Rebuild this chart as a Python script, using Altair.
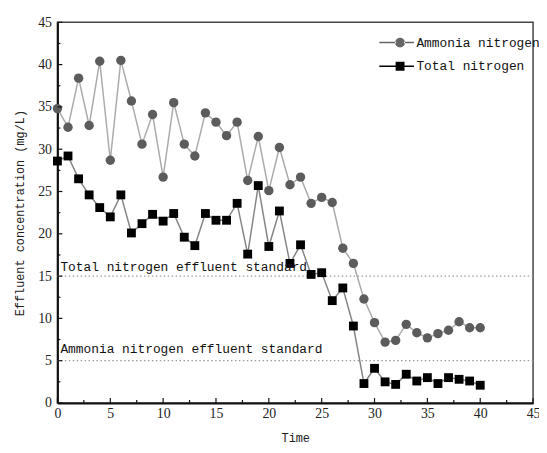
import altair as alt
import pandas as pd

names = ["Ammonia nitrogen", "Total nitrogen"]
time = list(range(41))
ammonia = [34.8, 32.6, 38.4, 32.8, 40.4, 28.7, 40.5, 35.7, 30.6, 34.1, 26.7, 35.5, 30.6, 29.2,
           34.3, 33.2, 31.6, 33.2, 26.3, 31.5, 25.1, 30.2, 25.8, 26.7, 23.6, 24.3, 23.7, 18.3,
           16.5, 12.3, 9.5, 7.2, 7.4, 9.3, 8.3, 7.7, 8.2, 8.6, 9.6, 8.9, 8.9]
total = [28.6, 29.2, 26.5, 24.6, 23.1, 22.0, 24.6, 20.1, 21.2, 22.3, 21.5, 22.4, 19.6, 18.6,
         22.4, 21.6, 21.6, 23.6, 17.6, 25.7, 18.5, 22.7, 16.5, 18.7, 15.2, 15.4, 12.1, 13.6,
         9.1, 2.3, 4.1, 2.5, 2.2, 3.4, 2.6, 3.0, 2.3, 3.0, 2.8, 2.6, 2.1]

standard_labels = ["Total nitrogen effluent standard", "Ammonia nitrogen effluent standard"]
standard_values = [15, 5]
standard_label_y = [16.1, 6.4]

x_major = [0, 5, 10, 15, 20, 25, 30, 35, 40, 45]
x_minor = [2.5, 7.5, 12.5, 17.5, 22.5, 27.5, 32.5, 37.5, 42.5]
y_major = [0, 5, 10, 15, 20, 25, 30, 35, 40, 45]
y_minor = [2.5, 7.5, 12.5, 17.5, 22.5, 27.5, 32.5, 37.5, 42.5]

W, H = 481, 385
MONO = "Liberation Mono"
SERIF = "Times New Roman, Liberation Serif, serif"

df = pd.DataFrame({
    "time": time + time,
    "value": ammonia + total,
    "series": [names[0]] * len(time) + [names[1]] * len(time),
})

xs = alt.Scale(domain=[0, 45], nice=False, zero=False)
ys = alt.Scale(domain=[0, 45], nice=False, zero=False)

x_axis = alt.Axis(title="Time", values=x_major, format="d", labelPadding=4, titlePadding=12,
                  labelFont=SERIF, labelFontSize=14, labelColor="#222")
y_axis = alt.Axis(title="Effluent concentration (mg/L)", values=y_major, format="d",
                  labelPadding=6, titlePadding=11,
                  labelFont=SERIF, labelFontSize=14, labelColor="#222")

base = alt.Chart(df)

lines = base.mark_line(strokeWidth=1.5).encode(
    x=alt.X("time:Q", scale=xs, axis=x_axis),
    y=alt.Y("value:Q", scale=ys, axis=y_axis),
    stroke=alt.Stroke("series:N", scale=alt.Scale(domain=names, range=["#ababab", "#858585"]),
                      legend=None),
)

points = base.mark_point(filled=True, opacity=1).encode(
    x=alt.X("time:Q", scale=xs),
    y=alt.Y("value:Q", scale=ys),
    fill=alt.Fill("series:N", scale=alt.Scale(domain=names, range=["#5c5c5c", "#000000"]),
                  legend=None),
    shape=alt.Shape("series:N", scale=alt.Scale(domain=names, range=["circle", "square"]),
                    legend=None),
    size=alt.Size("series:N", scale=alt.Scale(domain=names, range=[90, 80]), legend=None),
)

line_stub = "M-4.2,-0.15H-0.8V0.15H-4.2Z M0.8,-0.15H2.8V0.15H0.8Z "
path_circle = line_stub + "M-1,0A1,1 0 1,0 1,0A1,1 0 1,0 -1,0Z"
path_square = line_stub + "M-0.9,-0.9H0.9V0.9H-0.9Z"

leg = alt.Legend(title=None, orient="none", legendX=340, legendY=14, padding=0,
                 symbolSize=100, symbolStrokeWidth=0, labelOffset=10, rowPadding=10,
                 labelFont=MONO, labelFontSize=13, labelColor="#111", labelLimit=300)

legend_layer = base.transform_filter("false").mark_point(filled=True, opacity=1).encode(
    x=alt.X("time:Q", scale=xs),
    y=alt.Y("value:Q", scale=ys),
    fill=alt.Fill("series:N", scale=alt.Scale(domain=names, range=["#666666", "#000000"]),
                  legend=leg),
    shape=alt.Shape("series:N", scale=alt.Scale(domain=names, range=[path_circle, path_square]),
                    legend=leg),
)

std_df = pd.DataFrame({"value": standard_values, "label": standard_labels,
                       "label_y": standard_label_y, "time": [0, 0]})
rules = alt.Chart(std_df).mark_rule(color="#9a9a9a", strokeWidth=1.2, strokeDash=[1.5, 2.5]).encode(
    y=alt.Y("value:Q", scale=ys),
)
texts = alt.Chart(std_df).mark_text(align="left", baseline="middle", dx=3, font=MONO,
                                   fontSize=13, color="#111").encode(
    x=alt.X("time:Q", scale=xs),
    y=alt.Y("label_y:Q", scale=ys),
    text="label:N",
)

xt_major = alt.Chart(pd.DataFrame({"time": x_major})).mark_rule(color="#111", strokeWidth=1.2).encode(
    x=alt.X("time:Q", scale=xs), y=alt.value(H), y2=alt.value(H - 5))
xt_minor = alt.Chart(pd.DataFrame({"time": x_minor})).mark_rule(color="#111", strokeWidth=1.2).encode(
    x=alt.X("time:Q", scale=xs), y=alt.value(H), y2=alt.value(H - 3))
yt_major = alt.Chart(pd.DataFrame({"value": y_major})).mark_rule(color="#111", strokeWidth=1.2).encode(
    y=alt.Y("value:Q", scale=ys), x=alt.value(0), x2=alt.value(5))
yt_minor = alt.Chart(pd.DataFrame({"value": y_minor})).mark_rule(color="#111", strokeWidth=1.2).encode(
    y=alt.Y("value:Q", scale=ys), x=alt.value(0), x2=alt.value(3))

chart = alt.layer(
    rules, lines, points, legend_layer, texts, xt_major, xt_minor, yt_major, yt_minor
).resolve_scale(
    fill="independent", shape="independent", stroke="independent", size="independent"
).properties(
    width=W, height=H,
    background="white",
    autosize=alt.AutoSizeParams(type="none"),
    padding={"left": 50, "top": 12, "right": 6, "bottom": 40},
).configure_view(
    stroke="#444", strokeWidth=1.5
).configure_axis(
    grid=False, ticks=False, tickSize=0,
    labelFont=SERIF, labelFontSize=14, labelColor="#222",
    labelFlush=False, labelOverlap=False,
    titleFont=MONO, titleFontSize=12, titleFontWeight="normal", titleColor="#222",
    domainColor="#111", domainWidth=2,
)

chart.save("out.html", embed_options={"renderer": "svg", "actions": False})
